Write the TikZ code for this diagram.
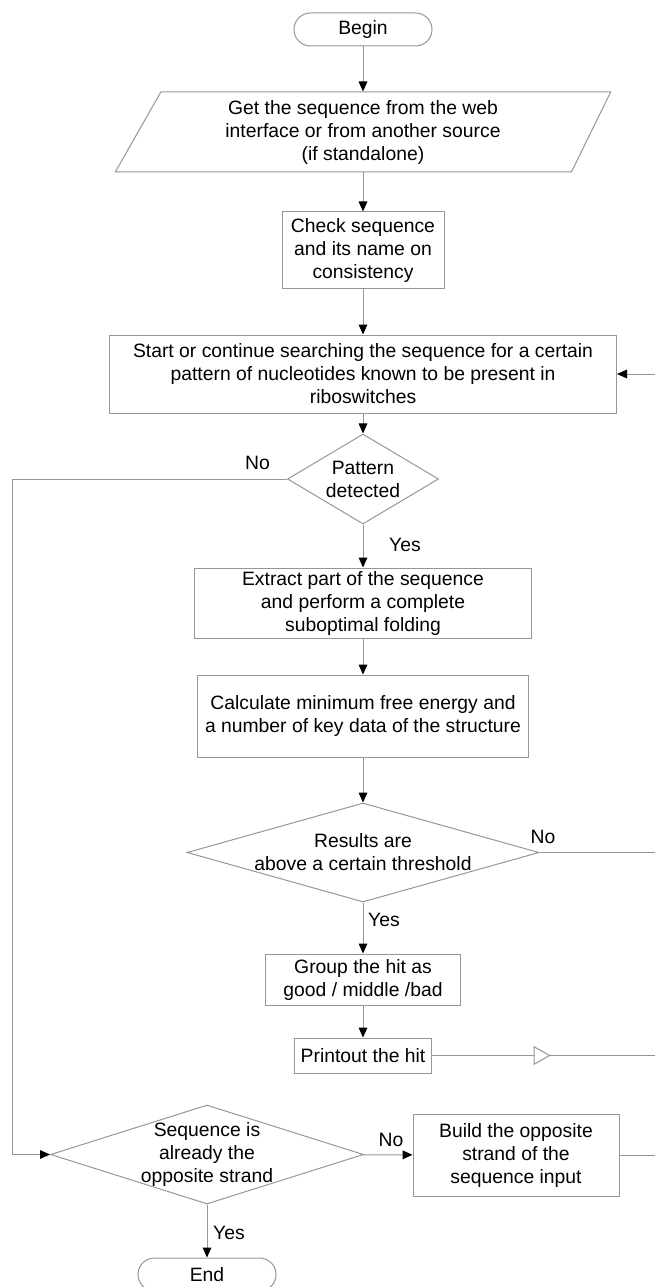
\documentclass[tikz,border=0pt]{standalone}
\usepackage{fontspec}
\setmainfont{Liberation Sans}
\usetikzlibrary{shapes.geometric,arrows.meta,decorations.markings}

\definecolor{linegray}{RGB}{150,150,150}

\tikzset{every picture/.style={line width=0.75pt}}
\tikzset{
  flowtext/.style={font=\fontsize{14.5}{17.25}\selectfont, align=center, text=black},
  labeltext/.style={font=\fontsize{14.5}{17.25}\selectfont, text=black, inner sep=0pt},
  procbox/.style={flowtext, draw=linegray, rectangle, inner sep=0pt},
  termbox/.style={flowtext, draw=linegray, rectangle, rounded corners=12.375pt, inner sep=0pt, minimum width=103.5pt, minimum height=24.75pt},
  decbox/.style={flowtext, draw=linegray, diamond, inner sep=-4pt},
  flowline/.style={draw=linegray},
  flowarrow/.style={draw=linegray, -{Triangle[length=7.5pt,width=6.5pt,color=black]}},
}

\begin{document}
\begin{tikzpicture}[x=0.75pt,y=0.75pt,yscale=-1,xscale=1]
\useasboundingbox (0,0) rectangle (655,1287);

%Flowchart: Terminator
\node[termbox] (begin) at (363,29.5) {Begin};
%Flowchart: Data
\node[flowtext, inner sep=0pt, minimum height=60pt] (input) at (363,132) {Get the sequence from the web\\interface or from another source\\(if standalone)};
\draw[linegray] (160.8,92) -- (610.7,92) -- (571.4,172) -- (115.3,172) -- cycle ;
%Flowchart: Process
\node[procbox, minimum width=121.5pt, minimum height=57.75pt] (check) at (363,250.5) {Check sequence\\and its name on\\consistency};
%Flowchart: Process
\node[procbox, minimum width=380.25pt, minimum height=58.5pt] (search) at (363,374) {Start or continue searching the sequence for a certain\\pattern of nucleotides known to be present in\\riboswitches};
%Flowchart: Decision
\node[decbox, aspect=1.68, minimum width=113.25pt, minimum height=67.5pt] (pattern) at (363,479) {Pattern\\detected};
%Flowchart: Process
\node[procbox, minimum width=253.1pt, minimum height=52.5pt] (extract) at (363,603) {Extract part of the sequence\\and perform a complete\\suboptimal folding};
%Flowchart: Process
\node[procbox, minimum width=248.25pt, minimum height=61.5pt] (calc) at (363,716) {Calculate minimum free energy and\\a number of key data of the structure};
%Flowchart: Decision
\node[decbox, aspect=3.56, minimum width=264pt, minimum height=74.25pt] (results) at (363,852.5) {Results are\\above a certain threshold};
%Flowchart: Process
\node[procbox, minimum width=146.25pt, minimum height=38.25pt] (group) at (363,979.5) {Group the hit as\\good / middle /bad};
%Flowchart: Process
\node[procbox, minimum width=102.75pt, minimum height=26.25pt] (printout) at (363,1055.5) {Printout the hit};
%Flowchart: Decision
\node[decbox, aspect=3.16, minimum width=234.75pt, minimum height=74.25pt] (seq) at (207,1154.5) {Sequence is\\already the\\opposite strand};
%Flowchart: Process
\node[procbox, minimum width=154.5pt, minimum height=61.5pt] (build) at (516,1155) {Build the opposite\\strand of the\\sequence input};
%Flowchart: Terminator
\node[termbox] (end) at (207,1274.5) {End};

%Loop ends at the right border
\coordinate (leftrail) at (12.5,479);
\coordinate (rimS) at (655,374);
\coordinate (rimA) at (655,852.5);
\coordinate (rimB) at (655,1055.5);
\coordinate (rimC) at (655,1155);

%Straight Lines
\draw[flowarrow] (begin) -- (input);
\draw[flowarrow] (input) -- (check);
\draw[flowarrow] (check) -- (search);
\draw[flowarrow] (search) -- (pattern);
\draw[flowarrow] (pattern) -- (extract);
\draw[flowarrow] (extract) -- (calc);
\draw[flowarrow] (calc) -- (results);
\draw[flowarrow] (results) -- (group);
\draw[flowarrow] (group) -- (printout);
\draw[flowarrow] (seq) -- (end);
\draw[flowarrow] (seq) -- (build);
\draw[flowarrow] (pattern.west) -- (leftrail) |- (seq.west);
\draw[flowarrow] (rimS) -- (search.east);
\draw[flowline] (results.east) -- (rimA);
\draw[flowline] (build.east) -- (rimC);
\draw[flowline, postaction={decorate}, decoration={markings, mark=at position 0.532 with {\arrow{Triangle[length=12.75pt,width=14.25pt,fill=white]}}}] (printout.east) -- (rimB);

%Branch labels
\node[labeltext] (patternno) at (257.5,463) {No};
\node[labeltext] (patternyes) at (405,545) {Yes};
\node[labeltext] (resultsno) at (543,837) {No};
\node[labeltext] (resultsyes) at (384,920) {Yes};
\node[labeltext] (seqno) at (391,1140) {No};
\node[labeltext] (seqyes) at (229,1233) {Yes};

\end{tikzpicture}
\end{document}
